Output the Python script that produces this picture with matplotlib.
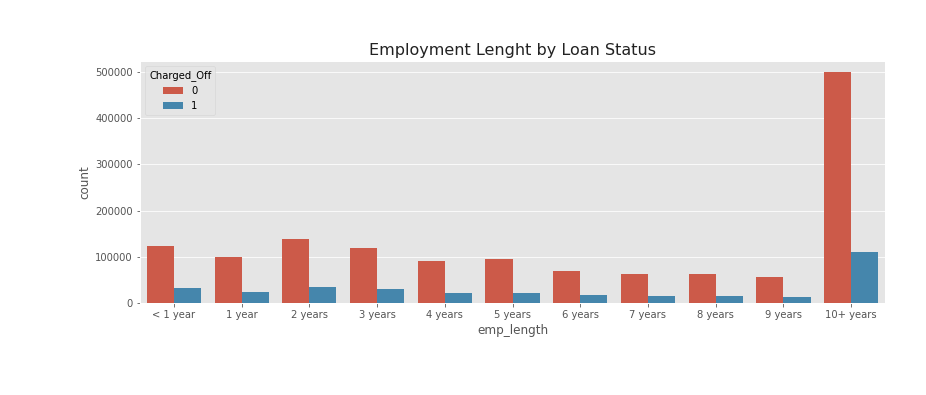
import matplotlib
matplotlib.use("Agg")
import matplotlib.pyplot as plt
import numpy as np
import seaborn as sns

plt.style.use("ggplot")

categories = ["< 1 year", "1 year", "2 years", "3 years", "4 years", "5 years",
              "6 years", "7 years", "8 years", "9 years", "10+ years"]
count_0 = [124000, 99000, 138000, 120000, 92000, 94500, 70000, 63000, 63000, 55500, 500000]
count_1 = [32000, 24000, 34000, 30000, 22000, 22000, 16500, 14500, 14500, 12300, 111000]
hue_labels = ["0", "1"]

c0 = sns.desaturate("#E24A33", 0.75)
c1 = sns.desaturate("#348ABD", 0.75)

fig = plt.figure(figsize=(926 / 72, 395 / 72), dpi=72)
ax = fig.add_axes([140 / 926, 1 - 303 / 395, (885 - 140) / 926, (303 - 61) / 395])

x = np.arange(len(categories))
w = 0.4
ax.bar(x - w / 2, count_0, width=w, color=c0, label=hue_labels[0])
ax.bar(x + w / 2, count_1, width=w, color=c1, label=hue_labels[1])

ax.set_xticks(x)
ax.set_xticklabels(categories)
ax.set_xlim(-0.5, len(categories) - 0.5)
ax.set_ylim(0, 524000)
ax.set_yticks([0, 100000, 200000, 300000, 400000, 500000])
ax.grid(axis="x", visible=False)
ax.set_xlabel("emp_length")
ax.set_ylabel("count")
ax.set_title("Employment Lenght by Loan Status", fontsize=16, color="#222222")
ax.legend(title="Charged_Off", loc="upper left")

fig.savefig("out.png", dpi=72)
